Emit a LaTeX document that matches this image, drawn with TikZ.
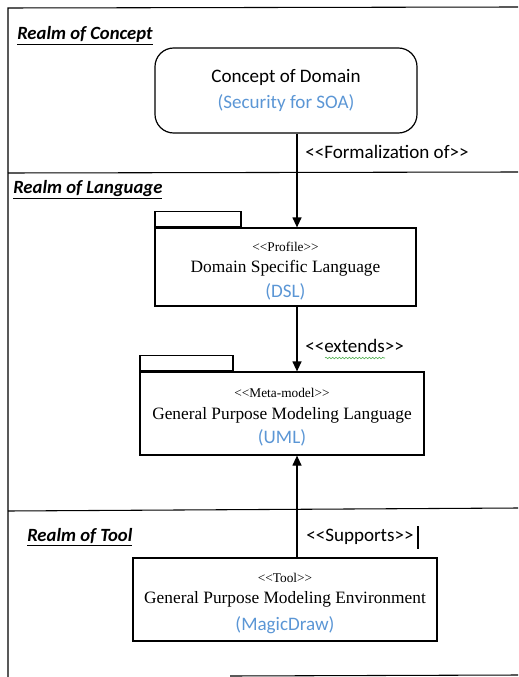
\documentclass[tikz,border=0pt]{standalone}
\usepackage{fontspec}
\setmainfont{Liberation Serif}
\setsansfont{Carlito}
\usetikzlibrary{arrows.meta,positioning,decorations.pathmorphing}
\definecolor{noteblue}{RGB}{91,150,213}
\definecolor{spellgreen}{RGB}{70,170,70}
\tikzset{
  realm/.style={anchor=west, inner sep=0pt, font=\sffamily\bfseries\itshape\fontsize{14}{16}\selectfont},
  pkgbox/.style={draw, line width=0.9pt, align=center, inner sep=0pt, font=\fontsize{13}{17}\selectfont},
  pkgtab/.style={draw, line width=0.9pt, anchor=south west, inner sep=0pt, minimum height=11.25pt},
  flow/.style={line width=0.9pt, -{Triangle[width=6.75pt,length=7.5pt]}},
  rel/.style={anchor=west, inner sep=0pt, font=\sffamily\fontsize{14.3}{16}\selectfont}
}
% chevrons kept apart so that << does not turn into a guillemet
\newcommand{\chev}[1]{<\kern0pt<#1>\kern0pt>}
\newcommand{\stereo}[1]{{\rule{0pt}{13pt}\fontsize{10}{11}\selectfont\chev{#1}}}
\newcommand{\note}[1]{{\sffamily\fontsize{14.3}{16}\selectfont\color{noteblue}#1}}
\begin{document}
\begin{tikzpicture}[x=0.75pt, y=-0.75pt]
  \useasboundingbox (0,0) rectangle (518,677);
  % frame and realms
  \draw[line width=0.8pt] (518,7) -- (8,8) -- (8,677);
  \draw[line width=0.8pt] (8,173) -- (518,172);
  \draw[line width=0.8pt] (8,511) -- (518,508);
  \draw[line width=0.8pt] (230,676) -- (518,675);
  \node[realm] (rconcept) at (17,36) {\underline{Realm of Concept}};
  \node[realm] (rlang) at (13,190) {\underline{Realm of Language}};
  \node[realm] (rtool) at (27,537) {\underline{Realm of Tool}};
  % boxes
  \node[draw, line width=0.9pt, rounded corners=14pt, minimum width=196.5pt, minimum height=63.75pt,
        align=center, font=\sffamily\fontsize{14.3}{20}\selectfont] (concept) at (286,90.5)
        {Concept of Domain\\\note{(Security for SOA)}};
  \node[pkgbox, minimum width=195.75pt, minimum height=58.5pt] (dsl) at (285.5,267)
        {\stereo{Profile}\\[-1pt]Domain Specific Language\\[2pt]\note{(DSL)}};
  \node[pkgtab, minimum width=64.5pt] (dsltab) at (dsl.north west) {};
  \node[pkgbox, minimum width=213pt, minimum height=62.25pt] (uml) at (282,413.5)
        {\stereo{Meta-model}\\[-1pt]General Purpose Modeling Language\\[1.5pt]\note{(UML)}};
  \node[pkgtab, minimum width=69.75pt] (umltab) at (uml.north west) {};
  \node[pkgbox, minimum width=228pt, minimum height=62.25pt] (tool) at (285,599.5)
        {\stereo{Tool}\\[-1pt]General Purpose Modeling Environment\\[3pt]\note{(MagicDraw)}};
  % connectors
  \coordinate (axis) at (297,0);
  \draw[flow] (concept.south -| axis) -- (dsl.north -| axis);
  \draw[flow] (dsl.south -| axis) -- (uml.north -| axis);
  \draw[flow] (tool.north -| axis) -- (uml.south -| axis);
  \node[rel] (formal) at (305,152) {\chev{Formalization of}};
  \node[rel] (extends) at (305,346) {\chev{extends}};
  \node[rel] (supports) at (306,537) {\chev{Supports}};
  \draw[spellgreen, line width=0.4pt, decorate, decoration={snake, amplitude=0.6pt, segment length=2.5pt}]
        (325,358) -- (385,358);
  \draw[line width=1.5pt] ([xshift=3pt,yshift=2pt]supports.north east) -- ([xshift=3pt,yshift=-3pt]supports.south east);
\end{tikzpicture}
\end{document}
